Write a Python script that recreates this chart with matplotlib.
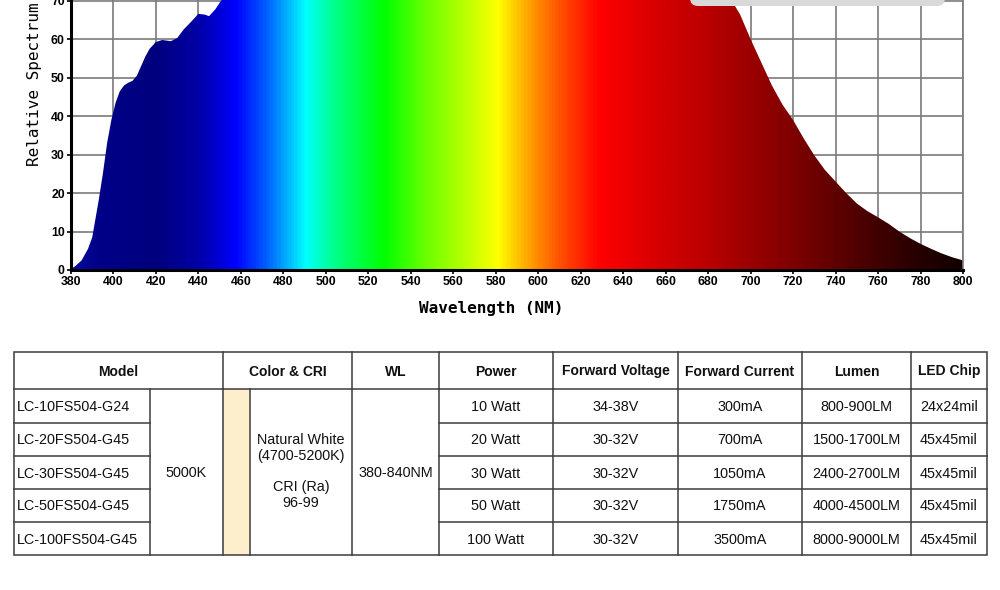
import numpy as np
import matplotlib.pyplot as plt
from matplotlib.colors import LinearSegmentedColormap
from matplotlib.patches import FancyBboxPatch, Rectangle

# spectrum (values above 70 are cut off in the source)
wavelength = [380, 382, 385, 388, 390, 393, 395, 397, 399, 401, 403, 405, 407, 409,
              411, 413, 415, 417, 420, 423, 427, 430, 433, 437, 440, 443, 445, 448,
              450, 455, 470, 500, 550, 600, 650, 680, 690, 695, 700, 705, 710, 715,
              720, 725, 730, 735, 740, 745, 750, 755, 760, 765, 770, 775, 780, 785,
              790, 795, 800]
relative = [0.3, 1.0, 2.5, 5.5, 8.5, 18, 25, 33, 39, 43.5, 46.5, 48, 48.7, 49.2,
            50.5, 53, 55.5, 57.5, 59.3, 59.8, 59.5, 60.3, 62.5, 64.8, 66.6, 66.4, 66, 67.8,
            69.5, 73, 80, 88, 93, 97, 92, 80, 71, 66.5, 60, 54, 48, 43,
            39, 34.2, 29.8, 26, 23, 20, 17.3, 15.3, 13.7, 12, 10, 8.3, 6.8, 5.5,
            4.3, 3.3, 2.5]

# table contents
headers = ['Model', 'Color & CRI', 'WL', 'Power', 'Forward Voltage',
           'Forward Current', 'Lumen', 'LED Chip']
models = ['LC-10FS504-G24', 'LC-20FS504-G45', 'LC-30FS504-G45',
          'LC-50FS504-G45', 'LC-100FS504-G45']
cct = '5000K'
color_cri = 'Natural White\n(4700-5200K)\n\nCRI (Ra)\n96-99'
wl_range = '380-840NM'
power = ['10 Watt', '20 Watt', '30 Watt', '50 Watt', '100 Watt']
voltage = ['34-38V', '30-32V', '30-32V', '30-32V', '30-32V']
current = ['300mA', '700mA', '1050mA', '1750mA', '3500mA']
lumen = ['800-900LM', '1500-1700LM', '2400-2700LM', '4000-4500LM', '8000-9000LM']
chip = ['24x24mil', '45x45mil', '45x45mil', '45x45mil', '45x45mil']

# spectrum colour stops (nm, colour)
stops = [(380, '#0a0aa0'), (392, '#000088'), (420, '#00007e'), (440, '#0000a8'),
         (457, '#0000ff'), (472, '#0060ff'), (490, '#00ffff'), (503, '#00ff90'),
         (527, '#00ff00'), (548, '#70ff00'), (565, '#b8ff00'), (581, '#ffff00'),
         (597, '#ff9a00'), (612, '#ff4800'), (629, '#ff0000'), (660, '#d20000'),
         (680, '#ba0000'), (700, '#9c0000'), (720, '#800000'), (740, '#600000'),
         (760, '#420000'), (780, '#260000'), (800, '#140000')]

fig = plt.figure(figsize=(10, 5.9), dpi=100)

ax = fig.add_axes([71 / 1000, 1 - 270 / 590, 892 / 1000, 270 / 590])
ax.set_xlim(380, 800)
ax.set_ylim(0, 70.2)

cmap = LinearSegmentedColormap.from_list(
    'spec', [((w - 380) / 420, c) for w, c in stops])
grad = np.linspace(0, 1, 1200).reshape(1, -1)
img = ax.imshow(grad, cmap=cmap, extent=[380, 800, 0, 100], aspect='auto',
                origin='lower', zorder=2, interpolation='bilinear')
poly = ax.fill_between(wavelength, relative, 0, color='none', lw=0, zorder=1)
clip = poly.get_paths()[0]
img.set_clip_path(clip, transform=ax.transData)

ax.set_xticks(range(380, 801, 20))
ax.set_yticks(range(0, 71, 10))
ax.grid(True, color='#7a7a7a', lw=1.2, zorder=0)
ax.set_axisbelow(True)
for lab in ax.get_xticklabels() + ax.get_yticklabels():
    lab.set_fontfamily('Liberation Sans')
    lab.set_fontweight('bold')
    lab.set_fontsize(8.8)
ax.tick_params(length=3, width=1.2, pad=1.5, colors='black')
ax.spines['top'].set_visible(False)
ax.spines['right'].set_color('#7a7a7a')
ax.spines['right'].set_linewidth(1.2)
ax.spines['left'].set_linewidth(2.2)
ax.spines['bottom'].set_linewidth(2.2)

fig.text(491 / 1000, 1 - 309 / 590, 'Wavelength (NM)', ha='center', va='center',
         family='DejaVu Sans Mono', fontweight='bold', fontsize=11.5)
fig.text(35 / 1000, 1 - 166 / 590, 'Relative Spectrum', ha='center', va='bottom',
         rotation=90, family='DejaVu Sans Mono', fontsize=11.5)

# overlay in pixel coordinates for the table and the cut-off legend box
tab = fig.add_axes([0, 0, 1, 1])
tab.set_xlim(0, 1000)
tab.set_ylim(590, 0)
tab.axis('off')
tab.patch.set_alpha(0)

tab.add_patch(FancyBboxPatch((690, -14), 255, 20,
                             boxstyle='round,pad=0,rounding_size=8',
                             fc='#d9d9d9', ec='none'))

X = [14, 150, 223, 250, 352, 439, 553, 678, 802, 911, 987]
Y = [352, 389, 422.5, 455.5, 488.5, 521.5, 554.5]
lc = '#3c3c3c'

tab.add_patch(Rectangle((X[2], Y[1]), X[3] - X[2], Y[-1] - Y[1],
                        fc='#fdefcc', ec='none'))
tab.add_patch(Rectangle((X[0], Y[0]), X[-1] - X[0], Y[-1] - Y[0],
                        fc='none', ec=lc, lw=1.1))
tab.plot([X[0], X[-1]], [Y[1], Y[1]], color=lc, lw=1.1)
for y in Y[2:-1]:
    tab.plot([X[0], X[1]], [y, y], color=lc, lw=1.1)
    tab.plot([X[5], X[-1]], [y, y], color=lc, lw=1.1)
for x in [X[2], X[4], X[5], X[6], X[7], X[8], X[9]]:
    tab.plot([x, x], [Y[0], Y[1]], color=lc, lw=1.1)
for x in X[1:-1]:
    tab.plot([x, x], [Y[1], Y[-1]], color=lc, lw=1.1)

hx = [(X[0] + X[2]) / 2, (X[2] + X[4]) / 2] + \
     [(X[i] + X[i + 1]) / 2 for i in range(4, 10)]
hy = (Y[0] + Y[1]) / 2 + 5
for x, h in zip(hx, headers):
    tab.text(x, hy, h, ha='center', va='baseline', family='Liberation Sans',
             fontweight='bold', fontsize=10, color='#111111')

fs = 10.4
for i in range(5):
    yc = (Y[i + 1] + Y[i + 2]) / 2 + 5.5
    tab.text(X[0] + 3, yc, models[i], ha='left', va='baseline',
             family='Liberation Sans', fontsize=fs, color='#111111')
    for col, vals in zip(range(5, 10), [power, voltage, current, lumen, chip]):
        tab.text((X[col] + X[col + 1]) / 2, yc, vals[i], ha='center', va='baseline',
                 family='Liberation Sans', fontsize=fs, color='#111111')

mid = (Y[1] + Y[-1]) / 2
tab.text((X[1] + X[2]) / 2, mid + 5.5, cct, ha='center', va='baseline',
         family='Liberation Sans', fontsize=fs, color='#111111')
tab.text((X[3] + X[4]) / 2, mid, color_cri, ha='center', va='center',
         family='Liberation Sans', fontsize=fs, color='#111111', linespacing=1.15)
tab.text((X[4] + X[5]) / 2, mid + 5.5, wl_range, ha='center', va='baseline',
         family='Liberation Sans', fontsize=fs, color='#111111')

fig.savefig('out.png', dpi=100)
